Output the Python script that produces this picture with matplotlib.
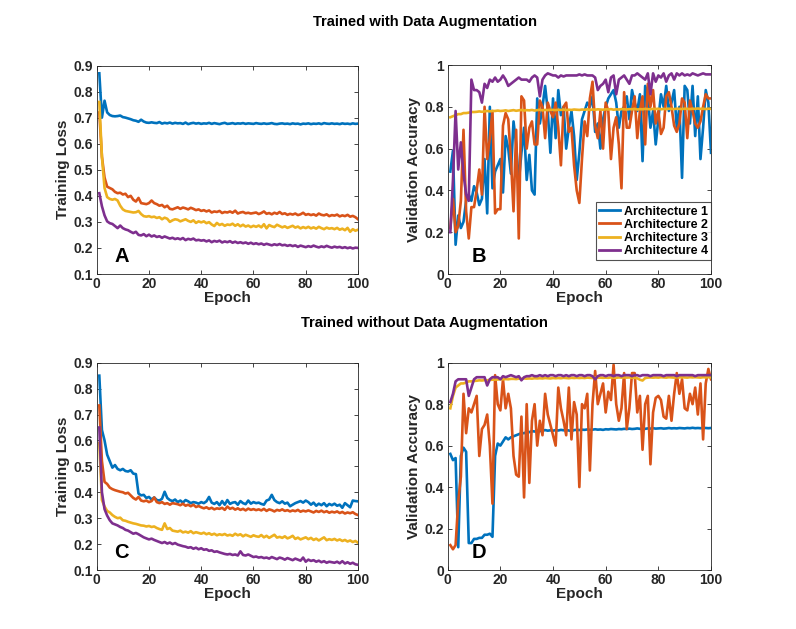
import matplotlib
matplotlib.use("Agg")
import matplotlib.pyplot as plt
import numpy as np

plt.rcParams['font.family'] = ['Liberation Sans', 'DejaVu Sans']
plt.rcParams['font.weight'] = 'bold'

epochs = list(range(1, 101))
labels = ["Architecture 1", "Architecture 2", "Architecture 3", "Architecture 4"]
colors = ["#0072BD", "#D95319", "#EDB120", "#7E2F8E"]

# ---- Panel A: training loss, with augmentation ----
A1 = [0.87, 0.70, 0.765, 0.72, 0.71, 0.706, 0.705, 0.706, 0.708, 0.702,
      0.700, 0.697, 0.694, 0.690, 0.688, 0.684, 0.692, 0.685, 0.681, 0.680,
      0.682, 0.680, 0.679, 0.683, 0.677, 0.680, 0.678, 0.681, 0.677, 0.680,
      0.678, 0.679, 0.676, 0.681, 0.675, 0.678, 0.680, 0.677, 0.679, 0.676,
      0.678, 0.677, 0.680, 0.676, 0.679, 0.677, 0.675, 0.678, 0.680, 0.676,
      0.677, 0.679, 0.676, 0.678, 0.677, 0.679, 0.676, 0.678, 0.677, 0.676,
      0.679, 0.677, 0.676, 0.678, 0.676, 0.677, 0.679, 0.676, 0.675, 0.677,
      0.678, 0.676, 0.677, 0.675, 0.678, 0.676, 0.677, 0.674, 0.677, 0.676,
      0.678, 0.675, 0.677, 0.676, 0.678, 0.675, 0.679, 0.677, 0.676, 0.678,
      0.676, 0.677, 0.675, 0.678, 0.676, 0.677, 0.675, 0.678, 0.676, 0.677]
A2 = [0.72, 0.55, 0.47, 0.435, 0.43, 0.425, 0.415, 0.41, 0.412, 0.405,
      0.408, 0.395, 0.40, 0.385, 0.378, 0.392, 0.372, 0.370, 0.368, 0.372,
      0.382, 0.372, 0.368, 0.362, 0.365, 0.356, 0.362, 0.350, 0.348, 0.352,
      0.356, 0.350, 0.355, 0.352, 0.348, 0.354, 0.350, 0.345, 0.348, 0.342,
      0.345, 0.340, 0.344, 0.336, 0.340, 0.338, 0.342, 0.334, 0.338, 0.336,
      0.340, 0.335, 0.343, 0.332, 0.336, 0.338, 0.333, 0.335, 0.332, 0.334,
      0.336, 0.330, 0.334, 0.340, 0.331, 0.334, 0.329, 0.335, 0.331, 0.338,
      0.330, 0.333, 0.327, 0.331, 0.328, 0.332, 0.326, 0.329, 0.335, 0.327,
      0.330, 0.326, 0.329, 0.324, 0.332, 0.327, 0.325, 0.329, 0.322, 0.326,
      0.324, 0.328, 0.321, 0.325, 0.322, 0.327, 0.320, 0.323, 0.318, 0.310]
A3 = [0.76, 0.55, 0.43, 0.395, 0.388, 0.385, 0.388, 0.382, 0.362, 0.348,
      0.342, 0.340, 0.338, 0.336, 0.337, 0.342, 0.330, 0.322, 0.320, 0.322,
      0.318, 0.320, 0.315, 0.318, 0.310, 0.316, 0.312, 0.300, 0.306, 0.310,
      0.308, 0.302, 0.306, 0.310, 0.304, 0.300, 0.306, 0.296, 0.302, 0.298,
      0.302, 0.295, 0.299, 0.290, 0.284, 0.296, 0.288, 0.292, 0.285, 0.290,
      0.288, 0.293, 0.285, 0.291, 0.283, 0.289, 0.282, 0.286, 0.280, 0.285,
      0.281, 0.286, 0.279, 0.291, 0.275, 0.288, 0.283, 0.280, 0.289, 0.284,
      0.279, 0.283, 0.277, 0.281, 0.285, 0.278, 0.282, 0.275, 0.280, 0.276,
      0.281, 0.275, 0.279, 0.274, 0.281, 0.276, 0.272, 0.278, 0.274, 0.276,
      0.272, 0.277, 0.270, 0.274, 0.268, 0.277, 0.262, 0.272, 0.266, 0.270]
A4 = [0.41, 0.36, 0.325, 0.302, 0.295, 0.292, 0.284, 0.276, 0.286, 0.276,
      0.271, 0.268, 0.262, 0.257, 0.262, 0.250, 0.248, 0.253, 0.245, 0.251,
      0.244, 0.248, 0.242, 0.245, 0.239, 0.244, 0.240, 0.236, 0.239, 0.234,
      0.237, 0.233, 0.238, 0.230, 0.235, 0.232, 0.236, 0.229, 0.231, 0.228,
      0.230, 0.225, 0.229, 0.222, 0.227, 0.224, 0.228, 0.221, 0.225, 0.222,
      0.226, 0.220, 0.224, 0.219, 0.222, 0.218, 0.221, 0.216, 0.220, 0.215,
      0.218, 0.214, 0.217, 0.212, 0.216, 0.213, 0.210, 0.214, 0.211, 0.215,
      0.210, 0.212, 0.208, 0.211, 0.207, 0.210, 0.204, 0.209, 0.206, 0.203,
      0.207, 0.204, 0.209, 0.205, 0.202, 0.206, 0.203, 0.208, 0.204, 0.201,
      0.205, 0.202, 0.204, 0.200, 0.203, 0.199, 0.202, 0.198, 0.201, 0.200]

# ---- Panel B: validation accuracy, with augmentation ----
B1 = [0.49, 0.59, 0.14, 0.28, 0.22, 0.25, 0.35, 0.38, 0.35, 0.42,
      0.39, 0.33, 0.36, 0.55, 0.29, 0.80, 0.41, 0.49, 0.52, 0.55,
      0.39, 0.66, 0.60, 0.48, 0.73, 0.62, 0.44, 0.58, 0.70, 0.45,
      0.57, 0.40, 0.38, 0.84, 0.72, 0.80, 0.90, 0.78, 0.58, 0.84,
      0.65, 0.88, 0.76, 0.80, 0.60, 0.70, 0.78, 0.66, 0.45, 0.58,
      0.74, 0.78, 0.82, 0.80, 0.85, 0.68, 0.72, 0.60, 0.74, 0.80,
      0.84, 0.86, 0.88, 0.82, 0.70, 0.78, 0.80, 0.85, 0.74, 0.88,
      0.82, 0.78, 0.86, 0.54, 0.90, 0.85, 0.70, 0.78, 0.62, 0.74,
      0.86, 0.80, 0.90, 0.78, 0.82, 0.88, 0.70, 0.80, 0.46, 0.90,
      0.88, 0.72, 0.90, 0.66, 0.85, 0.55, 0.70, 0.88, 0.82, 0.58]
B2 = [0.22, 0.36, 0.20, 0.23, 0.35, 0.69, 0.30, 0.17, 0.32, 0.32,
      0.40, 0.50, 0.38, 0.80, 0.55, 0.65, 0.78, 0.29, 0.31, 0.31,
      0.71, 0.77, 0.74, 0.55, 0.30, 0.69, 0.17, 0.85, 0.83, 0.60,
      0.70, 0.73, 0.62, 0.62, 0.83, 0.80, 0.65, 0.82, 0.78, 0.75,
      0.82, 0.70, 0.52, 0.80, 0.82, 0.68, 0.70, 0.52, 0.40, 0.34,
      0.55, 0.73, 0.66, 0.84, 0.92, 0.71, 0.65, 0.78, 0.60, 0.82,
      0.78, 0.55, 0.70, 0.75, 0.62, 0.41, 0.87, 0.70, 0.70, 0.78,
      0.85, 0.65, 0.78, 0.85, 0.62, 0.91, 0.80, 0.88, 0.72, 0.78,
      0.67, 0.70, 0.85, 0.87, 0.80, 0.71, 0.68, 0.72, 0.84, 0.82,
      0.65, 0.83, 0.78, 0.72, 0.70, 0.73, 0.80, 0.86, 0.84, 0.84]
B3 = [0.750, 0.755, 0.760, 0.765, 0.765, 0.770, 0.770, 0.772, 0.775, 0.775,
      0.776, 0.778, 0.776, 0.778, 0.780, 0.778, 0.780, 0.780, 0.782, 0.780,
      0.781, 0.783, 0.780, 0.782, 0.784, 0.781, 0.783, 0.785, 0.782, 0.784,
      0.783, 0.785, 0.782, 0.784, 0.786, 0.783, 0.785, 0.784, 0.786, 0.785,
      0.784, 0.786, 0.785, 0.787, 0.784, 0.786, 0.785, 0.787, 0.786, 0.785,
      0.787, 0.786, 0.788, 0.785, 0.787, 0.786, 0.788, 0.787, 0.786, 0.788,
      0.787, 0.789, 0.786, 0.788, 0.787, 0.789, 0.788, 0.787, 0.789, 0.788,
      0.790, 0.787, 0.789, 0.788, 0.790, 0.789, 0.788, 0.790, 0.789, 0.791,
      0.788, 0.790, 0.789, 0.791, 0.790, 0.789, 0.791, 0.790, 0.789, 0.791,
      0.790, 0.789, 0.791, 0.790, 0.792, 0.790, 0.791, 0.789, 0.791, 0.790]
B4 = [0.20, 0.45, 0.78, 0.50, 0.63, 0.48, 0.38, 0.35, 0.93, 0.88,
      0.88, 0.87, 0.82, 0.91, 0.89, 0.93, 0.92, 0.94, 0.92, 0.93,
      0.95, 0.93, 0.90, 0.91, 0.92, 0.93, 0.94, 0.93, 0.93, 0.93,
      0.92, 0.94, 0.95, 0.94, 0.85, 0.93, 0.95, 0.96, 0.955, 0.95,
      0.95, 0.94, 0.95, 0.945, 0.95, 0.95, 0.95, 0.95, 0.95, 0.955,
      0.95, 0.955, 0.95, 0.95, 0.95, 0.94, 0.88, 0.90, 0.91, 0.93,
      0.87, 0.94, 0.95, 0.86, 0.93, 0.94, 0.95, 0.93, 0.91, 0.95,
      0.95, 0.96, 0.95, 0.94, 0.93, 0.96, 0.86, 0.96, 0.92, 0.95,
      0.94, 0.96, 0.92, 0.95, 0.96, 0.93, 0.96, 0.95, 0.96, 0.95,
      0.955, 0.95, 0.96, 0.955, 0.95, 0.955, 0.96, 0.955, 0.955, 0.955]

# ---- Panel C: training loss, without augmentation ----
C1 = [0.85, 0.64, 0.60, 0.545, 0.52, 0.495, 0.505, 0.49, 0.485, 0.49,
      0.482, 0.480, 0.485, 0.472, 0.470, 0.395, 0.388, 0.390, 0.378, 0.382,
      0.372, 0.380, 0.370, 0.368, 0.375, 0.402, 0.378, 0.370, 0.366, 0.372,
      0.362, 0.368, 0.360, 0.370, 0.365, 0.358, 0.362, 0.360, 0.356, 0.362,
      0.358, 0.365, 0.382, 0.360, 0.355, 0.362, 0.350, 0.366, 0.352, 0.370,
      0.355, 0.360, 0.362, 0.352, 0.366, 0.358, 0.354, 0.368, 0.356, 0.362,
      0.358, 0.360, 0.355, 0.352, 0.368, 0.372, 0.390, 0.370, 0.362, 0.358,
      0.365, 0.356, 0.360, 0.346, 0.352, 0.358, 0.362, 0.366, 0.360, 0.368,
      0.362, 0.352, 0.360, 0.348, 0.356, 0.350, 0.358, 0.346, 0.355, 0.350,
      0.356, 0.348, 0.352, 0.340, 0.358, 0.350, 0.342, 0.368, 0.366, 0.365]
C2 = [0.735, 0.52, 0.44, 0.432, 0.418, 0.412, 0.408, 0.405, 0.402, 0.400,
      0.395, 0.398, 0.388, 0.378, 0.372, 0.382, 0.368, 0.365, 0.368, 0.362,
      0.366, 0.380, 0.362, 0.358, 0.362, 0.355, 0.358, 0.352, 0.358, 0.356,
      0.354, 0.350, 0.356, 0.348, 0.352, 0.346, 0.352, 0.343, 0.347, 0.342,
      0.338, 0.342, 0.336, 0.340, 0.334, 0.338, 0.336, 0.340, 0.332, 0.345,
      0.336, 0.340, 0.333, 0.338, 0.332, 0.336, 0.330, 0.337, 0.332, 0.335,
      0.331, 0.334, 0.330, 0.336, 0.328, 0.334, 0.331, 0.326, 0.332, 0.329,
      0.334, 0.328, 0.331, 0.326, 0.330, 0.327, 0.332, 0.325, 0.329, 0.326,
      0.330, 0.326, 0.322, 0.328, 0.324, 0.329, 0.323, 0.327, 0.321, 0.325,
      0.322, 0.326, 0.320, 0.324, 0.318, 0.322, 0.319, 0.323, 0.316, 0.312]
C3 = [0.59, 0.37, 0.345, 0.328, 0.322, 0.312, 0.305, 0.300, 0.302, 0.292,
      0.290, 0.286, 0.283, 0.280, 0.278, 0.275, 0.272, 0.271, 0.268, 0.270,
      0.266, 0.268, 0.262, 0.258, 0.255, 0.280, 0.258, 0.262, 0.252, 0.250,
      0.248, 0.252, 0.245, 0.248, 0.244, 0.250, 0.242, 0.246, 0.243, 0.240,
      0.244, 0.238, 0.242, 0.236, 0.240, 0.234, 0.238, 0.235, 0.239, 0.233,
      0.236, 0.232, 0.240, 0.234, 0.238, 0.230, 0.236, 0.232, 0.228, 0.234,
      0.230, 0.228, 0.235, 0.226, 0.232, 0.224, 0.230, 0.236, 0.225, 0.228,
      0.224, 0.230, 0.222, 0.226, 0.232, 0.220, 0.225, 0.218, 0.222, 0.226,
      0.219, 0.224, 0.216, 0.221, 0.214, 0.220, 0.226, 0.215, 0.219, 0.216,
      0.220, 0.214, 0.218, 0.212, 0.216, 0.210, 0.214, 0.208, 0.212, 0.205]
C4 = [0.65, 0.40, 0.335, 0.31, 0.292, 0.280, 0.276, 0.272, 0.266, 0.262,
      0.255, 0.252, 0.246, 0.240, 0.243, 0.238, 0.232, 0.226, 0.222, 0.218,
      0.221, 0.216, 0.212, 0.208, 0.204, 0.208, 0.202, 0.206, 0.200, 0.204,
      0.198, 0.195, 0.192, 0.190, 0.186, 0.188, 0.182, 0.186, 0.180, 0.184,
      0.178, 0.180, 0.174, 0.176, 0.170, 0.172, 0.168, 0.165, 0.162, 0.160,
      0.162, 0.158, 0.160, 0.156, 0.172, 0.158, 0.156, 0.160, 0.155, 0.150,
      0.152, 0.148, 0.150, 0.146, 0.148, 0.144, 0.150, 0.146, 0.142, 0.148,
      0.145, 0.140, 0.146, 0.142, 0.138, 0.144, 0.140, 0.136, 0.148, 0.132,
      0.140, 0.135, 0.138, 0.132, 0.136, 0.130, 0.134, 0.128, 0.132, 0.130,
      0.128, 0.132, 0.126, 0.134, 0.125, 0.130, 0.124, 0.128, 0.122, 0.120]

# ---- Panel D: validation accuracy, without augmentation ----
D1 = [0.56, 0.53, 0.54, 0.11, 0.55, 0.59, 0.57, 0.13, 0.13, 0.15,
      0.15, 0.155, 0.155, 0.17, 0.17, 0.175, 0.16, 0.55, 0.61, 0.60,
      0.62, 0.64, 0.63, 0.64, 0.645, 0.65, 0.655, 0.66, 0.66, 0.665,
      0.665, 0.67, 0.668, 0.672, 0.67, 0.672, 0.675, 0.672, 0.674, 0.672,
      0.675, 0.673, 0.676, 0.674, 0.675, 0.673, 0.670, 0.675, 0.676, 0.675,
      0.677, 0.676, 0.678, 0.676, 0.677, 0.679, 0.677, 0.678, 0.676, 0.679,
      0.678, 0.680, 0.679, 0.678, 0.680, 0.679, 0.681, 0.680, 0.682, 0.680,
      0.681, 0.683, 0.681, 0.682, 0.681, 0.683, 0.682, 0.684, 0.682, 0.683,
      0.684, 0.682, 0.683, 0.685, 0.683, 0.684, 0.683, 0.685, 0.684, 0.683,
      0.685, 0.684, 0.686, 0.684, 0.685, 0.684, 0.686, 0.685, 0.684, 0.685]
D2 = [0.12, 0.10, 0.12, 0.33, 0.45, 0.85, 0.66, 0.78, 0.76, 0.80,
      0.84, 0.55, 0.68, 0.70, 0.75, 0.60, 0.32, 0.94, 0.80, 0.77,
      0.92, 0.78, 0.85, 0.78, 0.55, 0.46, 0.45, 0.74, 0.35, 0.80,
      0.42, 0.72, 0.80, 0.60, 0.72, 0.65, 0.85, 0.75, 0.70, 0.65,
      0.60, 0.88, 0.78, 0.72, 0.65, 0.88, 0.63, 0.81, 0.75, 0.40,
      0.80, 0.78, 0.85, 0.48, 0.80, 0.96, 0.80, 0.85, 0.90, 0.76,
      0.86, 0.82, 0.99, 0.80, 0.72, 0.78, 0.95, 0.68, 0.78, 0.95,
      0.95, 0.76, 0.84, 0.58, 0.80, 0.84, 0.51, 0.76, 0.83, 0.84,
      0.82, 0.74, 0.73, 0.84, 0.72, 0.85, 0.95, 0.85, 0.92, 0.78,
      0.77, 0.85, 0.80, 0.88, 0.75, 0.90, 0.63, 0.90, 0.97, 0.92]
D3 = [0.78, 0.84, 0.88, 0.89, 0.90, 0.90, 0.905, 0.91, 0.91, 0.912,
      0.913, 0.915, 0.914, 0.916, 0.915, 0.917, 0.918, 0.918, 0.919, 0.920,
      0.920, 0.921, 0.920, 0.922, 0.922, 0.921, 0.923, 0.922, 0.924, 0.923,
      0.924, 0.923, 0.925, 0.924, 0.925, 0.924, 0.926, 0.925, 0.924, 0.926,
      0.925, 0.926, 0.925, 0.927, 0.926, 0.925, 0.927, 0.926, 0.927, 0.926,
      0.927, 0.926, 0.928, 0.927, 0.926, 0.928, 0.927, 0.928, 0.927, 0.928,
      0.927, 0.929, 0.928, 0.927, 0.929, 0.928, 0.929, 0.928, 0.929, 0.928,
      0.927, 0.925, 0.918, 0.914, 0.926, 0.928, 0.929, 0.928, 0.929, 0.928,
      0.930, 0.929, 0.928, 0.930, 0.929, 0.928, 0.930, 0.929, 0.930, 0.929,
      0.928, 0.930, 0.929, 0.930, 0.929, 0.928, 0.930, 0.929, 0.930, 0.929]
D4 = [0.81, 0.85, 0.91, 0.92, 0.92, 0.92, 0.92, 0.84, 0.88, 0.92,
      0.93, 0.93, 0.93, 0.93, 0.89, 0.92, 0.93, 0.93, 0.93, 0.92,
      0.935, 0.93, 0.935, 0.94, 0.935, 0.93, 0.935, 0.915, 0.93, 0.935,
      0.935, 0.94, 0.935, 0.935, 0.94, 0.935, 0.94, 0.935, 0.94, 0.94,
      0.935, 0.94, 0.94, 0.935, 0.94, 0.935, 0.94, 0.94, 0.935, 0.94,
      0.94, 0.935, 0.94, 0.94, 0.935, 0.92, 0.935, 0.94, 0.94, 0.935,
      0.94, 0.94, 0.935, 0.94, 0.94, 0.935, 0.94, 0.94, 0.94, 0.935,
      0.94, 0.94, 0.935, 0.94, 0.94, 0.94, 0.935, 0.94, 0.94, 0.94,
      0.94, 0.935, 0.94, 0.94, 0.94, 0.94, 0.935, 0.94, 0.94, 0.94,
      0.94, 0.94, 0.94, 0.935, 0.94, 0.94, 0.94, 0.94, 0.94, 0.94]

loss_ticks = [0.1, 0.2, 0.3, 0.4, 0.5, 0.6, 0.7, 0.8, 0.9]
acc_ticks = [0, 0.2, 0.4, 0.6, 0.8, 1]
acc_ticklabels = ["0", "0.2", "0.4", "0.6", "0.8", "1"]
x_ticks = [0, 20, 40, 60, 80, 100]

fig = plt.figure(figsize=(7.96, 6.29), dpi=100)
W, H = 796.0, 629.0

def make_ax(left, top, right, bottom):
    return fig.add_axes([left / W, 1 - bottom / H, (right - left) / W, (bottom - top) / H])

axA = make_ax(96.7, 65.5, 358, 274)
axB = make_ax(447.7, 65.0, 711, 274)
axC = make_ax(96.7, 362.7, 358, 570)
axD = make_ax(447.7, 362.7, 711, 570)

edge = "#262626"
panels = [
    (axA, [A1, A2, A3, A4], "Training Loss", "A", True),
    (axB, [B1, B2, B3, B4], "Validation Accuracy", "B", False),
    (axC, [C1, C2, C3, C4], "Training Loss", "C", True),
    (axD, [D1, D2, D3, D4], "Validation Accuracy", "D", False),
]

for ax, series, ylabel, letter, is_loss in panels:
    for s, c, lab in zip(series, colors, labels):
        ax.plot(epochs, s, color=c, lw=1.9, label=lab)
    ax.set_xlim(0, 100)
    ax.set_xticks(x_ticks)
    if is_loss:
        ax.set_ylim(0.1, 0.9)
        ax.set_yticks(loss_ticks)
        ax.set_yticklabels([f"{t:.1f}" for t in loss_ticks])
    else:
        ax.set_ylim(0, 1)
        ax.set_yticks(acc_ticks)
        ax.set_yticklabels(acc_ticklabels)
    ax.tick_params(direction="in", top=True, right=True, length=3, width=0.6,
                   colors=edge, labelsize=10, pad=2.5)
    for lbl in ax.get_xticklabels() + ax.get_yticklabels():
        lbl.set_fontweight("bold")
    for sp in ax.spines.values():
        sp.set_color(edge)
        sp.set_linewidth(0.6)
    ax.set_xlabel("Epoch", fontsize=11, fontweight="bold", color=edge, labelpad=0)
    ax.set_ylabel(ylabel, fontsize=11, fontweight="bold", color=edge, labelpad=3)
    lx = 0.095 if is_loss else 0.12
    ax.text(lx, 0.085, letter, transform=ax.transAxes, fontsize=14.5,
            fontweight="bold", color="black", ha="center", va="center")

leg = axB.legend(loc="lower right", bbox_to_anchor=(1.0, 0.065), fontsize=9,
                 frameon=True, fancybox=False, handlelength=1.7,
                 labelspacing=0.1, borderpad=0.25, handletextpad=0.3,
                 borderaxespad=0.0)
leg.get_frame().set_edgecolor(edge)
leg.get_frame().set_linewidth(0.8)
for t in leg.get_texts():
    t.set_fontweight("bold")
for l in leg.get_lines():
    l.set_linewidth(2.0)

fig.text(425 / W, 1 - 22 / H, "Trained with Data Augmentation", ha="center",
         va="center", fontsize=10.6, fontweight="bold", color="black")
fig.text(424 / W, 1 - 323 / H, "Trained without Data Augmentation", ha="center",
         va="center", fontsize=10.6, fontweight="bold", color="black")

fig.savefig("out.png", dpi=100)
